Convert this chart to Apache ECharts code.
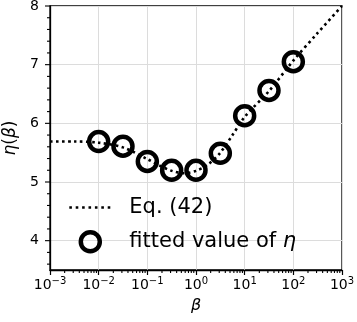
<!DOCTYPE html>
<html>
<head>
<meta charset="utf-8">
<script src="https://cdn.jsdelivr.net/npm/echarts@6/dist/echarts.min.js"></script>
<style>
html,body{margin:0;padding:0;background:#fff;}
#chart{width:357px;height:322px;}
</style>
</head>
<body>
<div id="chart"></div>
<script>
// Eq. (42) curve
const curveBeta = [0.001, 0.00316, 0.01, 0.0316, 0.1, 0.178, 0.316, 0.562, 1, 1.78, 3.16, 5.62, 10, 31.6, 100, 316, 1000];
const curveEta  = [5.69, 5.69, 5.67, 5.59, 5.39, 5.28, 5.19, 5.15, 5.19, 5.30, 5.50, 5.80, 6.11, 6.55, 7.07, 7.54, 8.0];
// fitted values
const fitBeta = [0.01, 0.0316, 0.1, 0.316, 1, 3.16, 10, 31.6, 100];
const fitEta  = [5.69, 5.61, 5.35, 5.20, 5.20, 5.49, 6.13, 6.56, 7.05];
// axis ticks
const yMajorTicks = [4, 5, 6, 7, 8];
const yMinorTicks = [3.6, 3.8, 4.2, 4.4, 4.6, 4.8, 5.2, 5.4, 5.6, 5.8, 6.2, 6.4, 6.6, 6.8, 7.2, 7.4, 7.6, 7.8];
const xMinorMantissas = [2, 3, 4, 5, 6, 7, 8, 9];
const xDecades = [-3, -2, -1, 0, 1, 2];

const X_MIN = 0.001, X_MAX = 1000, Y_MIN = 3.5, Y_MAX = 8;

const tickData = [];
yMajorTicks.forEach(v => tickData.push([X_MIN, v, 5, 0]));
yMinorTicks.forEach(v => tickData.push([X_MIN, v, 3, 0]));
xDecades.forEach(e => xMinorMantissas.forEach(m => tickData.push([m * Math.pow(10, e), Y_MIN, 3, 1])));

const FONT = 'DejaVu Sans';
const chart = echarts.init(document.getElementById('chart'), null, {renderer: 'canvas'});

function supLabel(v) {
  const e = Math.round(Math.log10(v));
  return '10{sup|' + (e < 0 ? '\u2212' + (-e) : e) + '}';
}

chart.setOption({
  animation: false,
  backgroundColor: '#fff',
  textStyle: {fontFamily: FONT},
  grid: {left: 50, right: 15, top: 6, bottom: 52, show: true, borderColor: '#000', borderWidth: 1.3,
         backgroundColor: 'transparent', containLabel: false, outerBoundsMode: 'none'},
  legend: {
    orient: 'vertical',
    left: 68, top: 197, padding: 0,
    itemWidth: 42, itemHeight: 19, itemGap: 12,
    textStyle: {fontFamily: FONT, fontSize: 21, color: '#000', padding: [0, 0, 0, 13],
      rich: {i: {fontFamily: FONT, fontStyle: 'italic', fontSize: 21, color: '#000'}}},
    formatter: function (name) { return name === 'fit' ? 'fitted value of {i|η}' : name; },
    data: [
      {name: 'Eq. (42)', lineStyle: {width: 2.6, type: [2.6, 3.8], color: '#000'},
       itemStyle: {color: 'rgba(0,0,0,0)', borderWidth: 0, opacity: 0}},
      {name: 'fit', icon: 'circle', itemStyle: {color: 'rgba(0,0,0,0)', borderColor: '#000', borderWidth: 4.5}}
    ]
  },
  xAxis: {
    type: 'log', logBase: 10, min: X_MIN, max: X_MAX, splitNumber: 6,
    name: '{i|β}', nameLocation: 'middle', nameGap: 27,
    nameTextStyle: {fontFamily: FONT, fontSize: 16, color: '#000', rich: {i: {fontFamily: FONT, fontStyle: 'italic', fontSize: 16, color: '#000'}}},
    axisLine: {show: true, lineStyle: {color: '#000', width: 1.3}},
    axisTick: {show: true, length: 5, lineStyle: {color: '#000', width: 1.2}},
    minorTick: {show: false},
    splitLine: {show: true, lineStyle: {color: '#dcdcdc', width: 1}},
    axisLabel: {
      margin: 6, color: '#000', fontFamily: FONT, fontSize: 14,
      formatter: supLabel,
      rich: {sup: {fontFamily: FONT, fontSize: 10, color: '#000', verticalAlign: 'bottom', padding: [0, 0, 9, 0]}}
    }
  },
  yAxis: {
    type: 'value', min: Y_MIN, max: Y_MAX, splitNumber: 5,
    name: '{i|η}({i|β})', nameLocation: 'middle', nameGap: 27, nameRotate: 90,
    nameTextStyle: {fontFamily: FONT, fontSize: 17, color: '#000', rich: {i: {fontFamily: FONT, fontStyle: 'italic', fontSize: 17, color: '#000'}}},
    axisLine: {show: true, lineStyle: {color: '#000', width: 1.3}},
    axisTick: {show: false},
    splitLine: {show: true, lineStyle: {color: '#dcdcdc', width: 1}},
    axisLabel: {
      margin: 11, color: '#000', fontFamily: FONT, fontSize: 14,
      formatter: function (v) { return Math.abs(v - Math.round(v)) < 1e-6 ? String(Math.round(v)) : ''; }
    }
  },
  series: [
    {
      name: 'Eq. (42)', type: 'line', symbol: 'none', smooth: 0.3,
      data: curveBeta.map((b, i) => [b, curveEta[i]]),
      itemStyle: {color: '#000'},
      lineStyle: {color: '#000', width: 2.6, type: [2.6, 3.4], cap: 'butt'},
      z: 3
    },
    {
      name: 'fit', type: 'scatter', symbol: 'circle', symbolSize: 19,
      data: fitBeta.map((b, i) => [b, fitEta[i]]),
      itemStyle: {color: 'rgba(0,0,0,0)', borderColor: '#000', borderWidth: 4.5, opacity: 1},
      z: 4
    },
    {
      name: 'ticks', type: 'custom', silent: true, clip: false, z: 5,
      data: tickData,
      renderItem: function (params, api) {
        const p = api.coord([api.value(0), api.value(1)]);
        const len = api.value(2);
        const isX = api.value(3) === 1;
        return {
          type: 'line',
          shape: isX ? {x1: p[0], y1: p[1], x2: p[0], y2: p[1] + len} : {x1: p[0] - len, y1: p[1], x2: p[0], y2: p[1]},
          style: {stroke: '#000', lineWidth: 1.1}
        };
      }
    }
  ]
});
</script>
</body>
</html>
